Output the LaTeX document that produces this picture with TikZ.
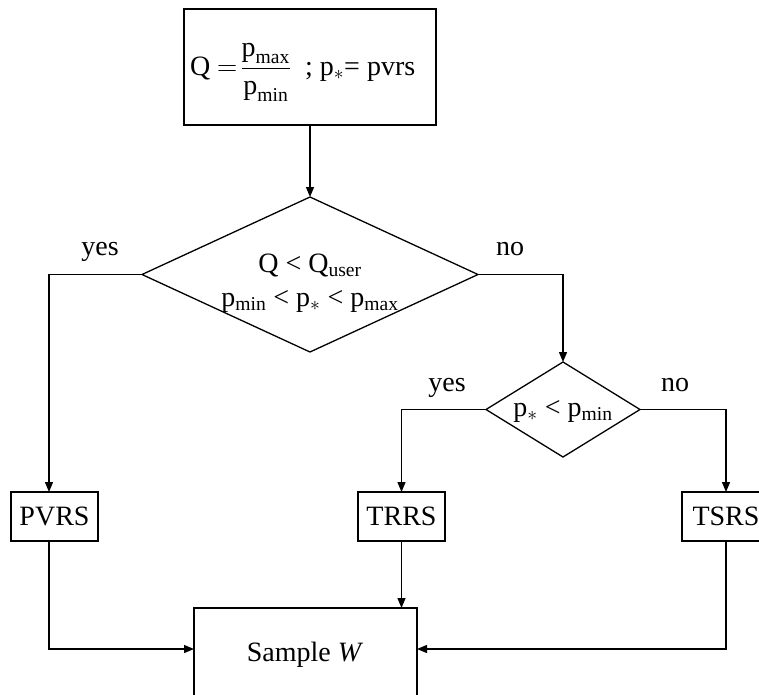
\RequirePackage{fix-cm}
\documentclass[tikz,border=0pt]{standalone}
\usepackage{amsmath}
\usepackage{fontspec}
\setmainfont{Liberation Serif}
\usetikzlibrary{shapes.geometric,arrows.meta}
\begin{document}
\begin{tikzpicture}[x=1pt,y=-1pt,
  every node/.style={font=\fontsize{28}{34}\selectfont, inner sep=0pt, outer sep=0pt},
  box/.style={draw, line width=1.3pt, rectangle},
  dia/.style={draw, line width=1.3pt, diamond},
  arr/.style={line width=1.3pt, -{Triangle[length=10pt,width=8pt]}},
  lbl/.style={anchor=base}]
\useasboundingbox (0,0) rectangle (759,694);
% boxes and decisions
\node[box, minimum width=252pt, minimum height=116pt] (top) at (310,67) {};
\node[anchor=base west] (toptext) at (190,75) {Q $=\!\dfrac{\text{p}_{\text{max}}}{\text{p}_{\text{min}}}$\ \ ; p$_*$= pvrs};
\node[dia, minimum width=336pt, minimum height=155pt] (d1) at (310,274.5) {};
\node[lbl] (d1a) at (310,272) {Q < Q\textsubscript{user}};
\node[lbl] (d1b) at (310,306) {p\textsubscript{min} < p$_*$ < p\textsubscript{max}};
\node[dia, minimum width=154pt, minimum height=95pt] (d2) at (563,409.5) {};
\node[lbl] (d2a) at (563,416) {p$_*$ < p\textsubscript{min}};
\node[box, minimum width=87pt, minimum height=49pt] (pvrs) at (54.5,516.5) {PVRS};
\node[box, minimum width=87pt, minimum height=49pt] (trrs) at (401.5,516.5) {TRRS};
\node[box, minimum width=88pt, minimum height=49pt] (tsrs) at (726,516.5) {TSRS};
\node[box, minimum width=223pt, minimum height=112pt] (sample) at (305.5,664) {};
\node[lbl] (sampletext) at (305,661) {Sample \textit{W}};
% labels
\node[lbl] (y1) at (100,255) {yes};
\node[lbl] (n1) at (510,255) {no};
\node[lbl] (y2) at (447,391) {yes};
\node[lbl] (n2) at (675,391) {no};
% helper coordinates
\coordinate (pv) at (49,0);
\coordinate (yy) at (0,649);
% connectors
\draw[arr] (top) -- (d1.north);
\draw[arr] (d1.west) -| (pv |- pvrs.north);
\draw[arr] (d1.east) -| (d2.north);
\draw[arr] (d2.west) -| (trrs.north);
\draw[arr] (d2.east) -| (tsrs.north);
\draw[arr] (pv |- pvrs.south) |- (sample.west |- yy);
\draw[arr] (trrs.south) -- (trrs.south |- sample.north);
\draw[arr] (tsrs.south) |- (sample.east |- yy);
\end{tikzpicture}
\end{document}
